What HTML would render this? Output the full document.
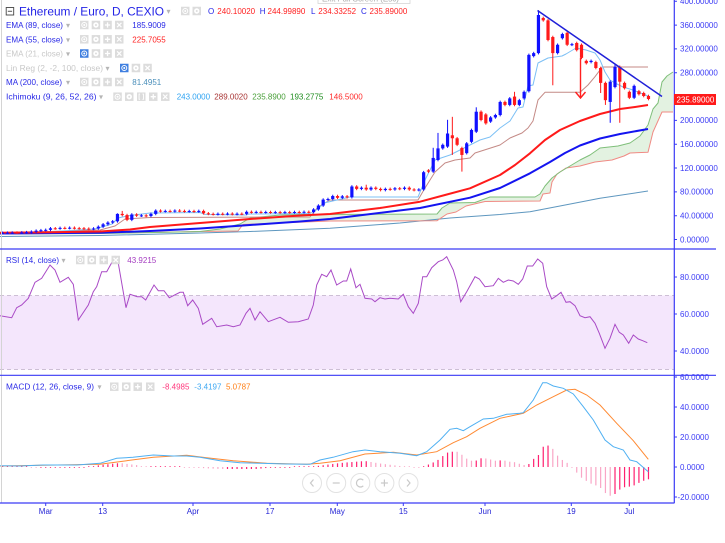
<!DOCTYPE html>
<html><head><meta charset="utf-8">
<style>
html,body{margin:0;padding:0;background:#fff;}
svg{display:block;}
text{font-family:"Liberation Sans",sans-serif;}
</style></head>
<body>
<svg id="c" width="725" height="543" viewBox="0 0 725 543" xmlns="http://www.w3.org/2000/svg">
<rect width="725" height="543" fill="#fff"/>
<!-- RSI band -->
<rect x="0" y="295.5" width="674" height="74" fill="#f4e6fc"/>
<line x1="0" y1="295.5" x2="674" y2="295.5" stroke="#bfaec8" stroke-width="0.8" stroke-dasharray="4,3"/>
<line x1="0" y1="369.5" x2="674" y2="369.5" stroke="#bfaec8" stroke-width="0.8" stroke-dasharray="4,3"/>

<!-- Ichimoku cloud -->
<polygon fill="#e3f2e1" points="0,234 100,233.5 180,232 200,231.5 220,229 240,224 250,218 280,215 300,214.5 437,214 442,208 450,203 475,202.5 490,197 535,197 540,194 545,186 552,178 560,172 570,166 580,160 590,155 600,148 618,146 630,143 640,136 648,125 653,109 658,103 662,82 667,76 673,72 673,112 662,112 653,132 648,152.3 630,153 624,156 612,160 595,162 580,166 566,168 557,174 552,182 550,193 543,194 540,201 485,201.5 466,206 456,212 447,214 437,220.7 330,221 243,224.5 238,231 200,231.5 120,233 0,233.5"/>
<g fill="none" stroke-linejoin="round">
<polyline stroke="#5e97bf" stroke-width="1" points="0,236.5 100,235.5 200,233 250,231.5 300,229.5 330,228.3 400,223 450,218 500,214.5 530,211.7 560,206 600,198.3 648,191"/>
<polyline stroke="#f08a84" stroke-width="1" points="0,233.5 120,233 200,231.5 238,231 243,224.5 330,221 437,220.7 447,214 456,212 466,206 485,201.5 540,201 543,194 550,193 552,182 557,174 566,168 580,166 595,162 612,160 624,156 630,153 648,152.3 653,132 662,112 673,112"/>
<polyline stroke="#7fbf7a" stroke-width="1" points="0,234 100,233.5 180,232 200,231.5 220,229 240,224 250,218 280,215 300,214.5 437,214 442,208 450,203 475,202.5 490,197 535,197 540,194 545,186 552,178 560,172 570,166 580,160 590,155 600,148 618,146 630,143 640,136 648,125 653,109 658,103 662,82 667,76 673,72"/>
<polyline stroke="#c48a86" stroke-width="1" points="0,233 100,230 115,226 125,219 150,217.5 310,217 318,207 330,200 418,200 425,188 435,172 445,163 455,160 470,158 475,153 500,145 510,138 522,133 528,128 533,121 538,100 545,92.3 580,92.3 588,85 595,76.7 600,70 602,67 648,67"/>
<polyline stroke="#7cc0f5" stroke-width="1" points="0,233.5 45,232 95,229 112,224 118,218 130,215.5 150,213 200,212.5 205,214.5 245,215 250,214 310,213.5 318,209 324,203 350,197 418,197 425,180 435,160 450,155 470,145 480,140 490,137 500,128 510,121 518,108 523,107 528,86 533,85 538,63 548,58 562,56 566,54 571,51 576,48 586,50 595,53 600,60 605,72 610,80 615,83 623,87 633,90 648,96"/>
<polyline stroke="#1414f0" stroke-width="2" points="0,233.5 100,232.8 150,231 200,228.5 250,225 300,221.5 330,219 420,208 470,197.7 500,188 530,173.3 550,162 565,153 580,145.5 600,138.5 620,134 648,129"/>
<polyline stroke="#ff1a1a" stroke-width="2" points="0,232.7 50,232.3 100,231.5 130,229.5 150,227 200,223 250,219 300,215.5 330,214 380,208 420,201.7 445,195 470,188.3 500,175 515,165 530,153.3 545,140 560,130 580,121 600,114 620,109 635,107 648,105"/>
</g>
<g id="cndl"></g>
<!-- trendline & arrow -->
<line x1="537.5" y1="10.5" x2="662" y2="96.5" stroke="#2020d8" stroke-width="1.5"/>
<path d="M580.5 58V98M575.5 92L580.5 98L585.5 92" stroke="#ff2020" stroke-width="1.4" fill="none"/>

<!-- RSI line -->
<polyline fill="none" stroke="#a94ac6" stroke-width="1" points="0,315.7 11.7,317.7 16.7,307.7 21.7,305 28.3,298.3 35,282.3 41.7,278.3 50,265 55,270 60,282.3 68.3,277.3 73.3,284.3 78.3,320 88.3,305 93.3,291.7 96.7,286.7 101.7,271.7 106.7,271.7 115,256.7 118.3,263.3 126,307.7 130,294.3 137.3,296.7 141.7,296.7 145.7,300 154,285 158.3,290.7 164,290.7 169.3,297.7 180,292.3 183.3,292.3 187.7,305.7 192.7,300 198.3,308.3 202.7,324.3 211.7,318.3 216.7,326.7 226.7,325 233.3,326.7 240,325 246,313.3 250,308.3 255,320 260,311.7 268.3,321.7 280,317.3 288.3,322.3 298.3,321.7 308.3,319 313.3,305 316.7,285 321.7,274.3 326.7,276.7 331,270 336.7,285 343.3,281 346.7,281 350.7,269 356,287.7 360,284.3 365,298.3 371.7,299 375,301.7 380,297.7 385,299 390,298.3 398.3,299 403.3,294.3 408.3,306.7 413.3,313.3 418.3,303.3 422.7,276.7 426.7,276.7 431.7,267.7 438.3,261.7 442.7,260 446.7,256.7 453.3,270 456.7,281.7 460.7,301.7 466.7,291.7 475,276.7 479.3,279 485,286.7 493.3,285.7 498.3,278.3 503.3,282.3 508.3,280 513.3,281 518.3,284.3 522.7,279 527.3,266 532.7,266 537.7,259 542.7,263.3 546.7,286.7 551.7,299 556.7,295.7 561,292.3 566,302.3 570,301.7 575,305.7 580,315.7 585,317.7 590,316.7 595,323.3 599.3,333.3 605,348.3 610,338.3 615,324.3 619.3,332.3 623.3,335 628.7,343.3 633.3,335 638.3,339 642.7,340.7 647.3,342.7"/>

<!-- MACD -->
<g id="hist"></g>
<polyline fill="none" stroke="#ff8a33" stroke-width="1" points="0,466 100,464.3 126.7,460.7 153.3,457.3 186.7,455.3 206.7,457.7 233.3,460.7 266.7,463.3 306.7,464.3 320,463.3 340,460.7 365,454 393.3,452.3 416.7,455 436.7,451.7 453.3,442.7 466.7,436.7 480,428.3 500,418.3 523.3,413.3 536.7,405 553.3,396.7 566.7,390 575,389.3 586.7,395 600,405 616.7,423.3 633.3,440.7 648.3,459.3"/>
<polyline fill="none" stroke="#4fb0f2" stroke-width="1" points="0,465.7 20,466 43,465 76.7,465 100,463.3 116.7,458.3 133,457.3 153.3,455 173,456 186.7,456 200,457.3 220,460.7 240,462.7 260,463.3 286.7,464 310,464.3 320,460 333,457.3 353,451.7 365,450 380,451.7 400,453.3 416.7,455.7 426.7,451.7 440,440 450,429.3 456.7,428.3 463.3,430.7 470,426.7 483.3,419 493.3,418.3 506.7,414.3 520,413.3 523.3,412.7 533.3,400 542.7,382.7 546.7,382.7 553.3,386 563.3,388.3 573.3,394 583.3,406.7 593.3,420 605,440 613.3,446.7 623.3,450 630,460 636.7,461.7 648.3,471.7"/>

<!-- frame -->
<line x1="1.5" y1="0" x2="1.5" y2="503" stroke="#d4d4d4" stroke-width="1"/>
<line x1="0" y1="249" x2="716" y2="249" stroke="#3a3af5" stroke-width="1.2"/>
<line x1="0" y1="375.3" x2="716" y2="375.3" stroke="#3a3af5" stroke-width="1.2"/>
<line x1="0" y1="503" x2="674.5" y2="503" stroke="#3a3af5" stroke-width="1.2"/>
<line x1="674.3" y1="0" x2="674.3" y2="503" stroke="#3a3af5" stroke-width="1.2"/>

<!-- right axis ticks & labels -->
<g stroke="#3a3af5" stroke-width="1">
<path d="M674 1.3h3M674 25.1h3M674 48.9h3M674 72.8h3M674 120.4h3M674 144.2h3M674 168h3M674 191.9h3M674 215.7h3M674 239.5h3M674 277h3M674 314h3M674 351h3M674 377h3M674 407h3M674 437h3M674 467h3M674 497h3"/>
<path d="M45.7 503v3M102.7 503v3M193 503v3M270 503v3M337.3 503v3M403.3 503v3M485 503v3M571.3 503v3M629.3 503v3"/>
</g>
<g font-size="8" fill="#3b3bf5">
<text x="680" y="4.1">400.00000</text>
<text x="680" y="27.9">360.00000</text>
<text x="680" y="51.7">320.00000</text>
<text x="680" y="75.6">280.00000</text>
<text x="680" y="123.2">200.00000</text>
<text x="680" y="147">160.00000</text>
<text x="680" y="170.8">120.00000</text>
<text x="680" y="194.7">80.00000</text>
<text x="680" y="218.5">40.00000</text>
<text x="680" y="242.3">0.00000</text>
<text x="680" y="279.8">80.0000</text>
<text x="680" y="316.8">60.0000</text>
<text x="680" y="353.8">40.0000</text>
<text x="680" y="379.8">60.0000</text>
<text x="680" y="409.8">40.0000</text>
<text x="680" y="439.8">20.0000</text>
<text x="680" y="469.8">0.0000</text>
<text x="677.5" y="499.8">-20.0000</text>
</g>
<rect x="674" y="94" width="42" height="11" fill="#ff1a1a"/>
<text x="676.5" y="102.5" font-size="8" fill="#fff">235.89000</text>

<!-- time labels -->
<g font-size="8" fill="#2626d6" text-anchor="middle">
<text x="45.7" y="514">Mar</text>
<text x="102.7" y="514">13</text>
<text x="193" y="514">Apr</text>
<text x="270" y="514">17</text>
<text x="337.3" y="514">May</text>
<text x="403.3" y="514">15</text>
<text x="485" y="514">Jun</text>
<text x="571.3" y="514">19</text>
<text x="629.3" y="514">Jul</text>
</g>

<!-- tooltip remnant -->
<rect x="318" y="-9" width="92" height="12.5" fill="#fff" stroke="#d6d6d6" stroke-width="0.8"/>
<text x="322" y="1.5" font-size="8" fill="#aaa">Exit Full Screen (Esc)</text>

<!-- legends -->
<rect x="6.2" y="7.5" width="7.5" height="7.5" fill="none" stroke="#444" stroke-width="0.9"/>
<line x1="7.8" y1="11.25" x2="12.1" y2="11.25" stroke="#444" stroke-width="0.9"/>
<text x="19" y="15.3" font-size="12" fill="#2424e6" textLength="145" lengthAdjust="spacingAndGlyphs">Ethereum / Euro, D, CEXIO</text>
<g font-size="8" fill="#b5b5b5">
<text x="166.5" y="14">▾</text>
<text x="66" y="28">▾</text><text x="66" y="42.3">▾</text><text x="66" y="56.5">▾</text>
<text x="105.5" y="71">▾</text><text x="66" y="85">▾</text><text x="99" y="99.7">▾</text>
<text x="61.5" y="263">▾</text><text x="97.5" y="389.5">▾</text>
</g>
<g font-size="8">
<text x="208" y="14" fill="#2424e6">O</text><text x="217.3" y="14" fill="#ff2020">240.10020</text>
<text x="259.7" y="14" fill="#2424e6">H</text><text x="267.5" y="14" fill="#ff2020">244.99890</text>
<text x="311" y="14" fill="#2424e6">L</text><text x="318.3" y="14" fill="#ff2020">234.33252</text>
<text x="361" y="14" fill="#2424e6">C</text><text x="369.5" y="14" fill="#ff2020">235.89000</text>

<text x="6" y="28" fill="#2929e6" textLength="57" lengthAdjust="spacingAndGlyphs">EMA (89, close)</text>
<text x="132.3" y="28" fill="#2929e6">185.9009</text>
<text x="6" y="42.3" fill="#2929e6" textLength="57" lengthAdjust="spacingAndGlyphs">EMA (55, close)</text>
<text x="132.3" y="42.3" fill="#ff2020">225.7055</text>
<text x="6" y="56.5" fill="#c8c8c8" textLength="57" lengthAdjust="spacingAndGlyphs">EMA (21, close)</text>
<text x="6" y="71" fill="#c8c8c8" textLength="97" lengthAdjust="spacingAndGlyphs">Lin Reg (2, -2, 100, close)</text>
<text x="6" y="85" fill="#2929e6" textLength="56" lengthAdjust="spacingAndGlyphs">MA (200, close)</text>
<text x="132.3" y="85" fill="#4a8fba">81.4951</text>
<text x="6" y="99.7" fill="#2929e6" textLength="90.5" lengthAdjust="spacingAndGlyphs">Ichimoku (9, 26, 52, 26)</text>
<text x="176.7" y="99.7" fill="#2ea3f2">243.0000</text>
<text x="214.3" y="99.7" fill="#a83434">289.0020</text>
<text x="252.3" y="99.7" fill="#4aa03a">235.8900</text>
<text x="290" y="99.7" fill="#1e8c1e">193.2775</text>
<text x="329.3" y="99.7" fill="#ff2a2a">146.5000</text>

<text x="6" y="263" fill="#2929e6" textLength="53" lengthAdjust="spacingAndGlyphs">RSI (14, close)</text>
<text x="127.3" y="263" fill="#a43cc0">43.9215</text>

<text x="6" y="389.5" fill="#2929e6" textLength="88" lengthAdjust="spacingAndGlyphs">MACD (12, 26, close, 9)</text>
<text x="162.3" y="389.5" fill="#ff3a7e">-8.4985</text>
<text x="194.3" y="389.5" fill="#3ea8f2">-3.4197</text>
<text x="226" y="389.5" fill="#ff7f16">5.0787</text>
</g>
<g id="icons"></g>

<!-- nav buttons -->
<g id="nav" stroke="#e2e2e2" stroke-width="1" fill="rgba(255,255,255,0.75)">
<circle cx="312" cy="483" r="9.5"/><circle cx="336.2" cy="483" r="9.5"/><circle cx="360.3" cy="483" r="9.5"/><circle cx="384.4" cy="483" r="9.5"/><circle cx="408.5" cy="483" r="9.5"/>
</g>
<g fill="none" stroke="#c9c9c9" stroke-width="1.2">
<path d="M313.5 479.5L310.5 483L313.5 486.5"/>
<path d="M332.7 483H339.7"/>
<path d="M363.3 480.2A4 4 0 1 0 363.3 485.8"/>
<path d="M380.9 483H387.9M384.4 479.5V486.5"/>
<path d="M407 479.5L410 483L407 486.5"/>
</g>
</svg>
<script>
(function(){
const NS='http://www.w3.org/2000/svg';
function el(tag,attrs,parent){const e=document.createElementNS(NS,tag);for(const k in attrs)e.setAttribute(k,attrs[k]);parent.appendChild(e);return e;}
const X=i=>45.7+4.784*i, Y=p=>239.5-0.5955*p;
const D=[
[11,11.2],[11.2,11.4],[11.4,11.6],[11.6,11.5],[11.5,11.9],[11.9,12.3],[12.3,13.2],[13.2,14.8],[14.8,15.6],
[15.6,16.2],[16.2,18.8],[18.8,18.5],[18.5,19.5],[19.5,19.2],[19.2,19.8],[19.8,19],[19,18.8],[18.8,18.2],[18.2,17.8],
[17.8,18.5],[18.5,21.5],[21.5,25.5],[25.5,28.5],[28.5,30.5],[30.5,43,44],[43,41,48],[41,33],[33,42],[42,40],
[40,40.5],[40.5,39.5],[39.5,43],[43,48.5],[48.5,47.5],[47.5,48],[48,47.5],[47.5,48.5],[48.5,48,51],[48,47.3],
[47.3,47.8],[47.8,47],[47,48],[48,44],[44,43],[43,42.5],[42.5,43.2],[43.2,42.8],[42.8,43.5],[43.5,42.6],
[42.6,43.3],[43.3,43],[43,46.5],[46.5,45.8],[45.8,46.3],[46.3,45.7],[45.7,46.2],[46.2,45.5],[45.5,46],[46,45.3],
[45.3,46],[46,45.5],[45.5,46.2],[46.2,45.8],[45.8,46.5],[46.5,46],[46,50.5],[50.5,57],[57,67],[67,68],
[68,73],[73,70],[70,72.5],[72.5,71],[71,89],[89,85],[85,87],[87,84,92],[84,87],[87,85],
[85,83],[83,85],[85,84],[84,86],[86,85],[85,87],[87,84],[84,83],[83,84],[84,113],
[116,114],[114,137,154],[133.5,153,179],[153,159],[156,178,201],[175,170,206,142],[170,159],[153.6,142,0,114],[145,161.5],[164,184],
[181,214.6,222],[214.6,200.7],[210,195],[198,205],[205,209],[209,231],[231,226],[226,237],[240,226,248],[226,234],
[237,248],[249,310],[308,313],[313,377,385],[372,368],[368,335],[340,313,0,259],[313,327],[338,345],[347,327],
[327,328],[330,318],[327,305],[300,296],[298,300],[298,288],[288,263,0,246],[263,234,0,226],[231,265,0,196],[256,290,295],
[290,265,0,196],[263,254],[248,238],[238,258],[249,244],[246,241],[241,235.89]
];
const g=document.getElementById('cndl');
D.forEach((d,k)=>{const i=k-9,x=X(i);const o=d[0],c=d[1],h=d[2],l=d[3];
const yo=Y(o),yc=Y(c);const top=Math.min(yo,yc),bot=Math.max(yo,yc);
const yh=h?Y(h):top-1.3, yl=l?Y(l):bot+1.3;
const col=c>=o?'#1010ff':'#ff1a1a';
el('rect',{x:(x-0.5).toFixed(2),y:yh.toFixed(2),width:1,height:(yl-yh).toFixed(2),fill:col},g);
el('rect',{x:(x-1.6).toFixed(2),y:top.toFixed(2),width:3.2,height:Math.max(1,bot-top).toFixed(2),fill:col},g);
});
const H=[[0,467],[30,467],[35,467.6],[80,467.6],[95,466],[100,465],[120,463],[140,465.5],[143,467],[183,467],[193,467.6],[220,469],[257,469],[270,467.6],[290,467],[310,467],[317,466],[340,463],[365,461],[380,463.5],[400,466],[420,467.6],[425,466],[432,463],[437,460.7],[442,456.7],[447,452.7],[452,451.7],[457,451.7],[461,454],[466,458.3],[471,460.7],[476,460.7],[480,458.3],[485,458.3],[490,459.3],[494,460.7],[498,460.7],[503,460],[508,461.7],[513,461.7],[518,463.3],[523,465],[528,465],[533,459.3],[538,456],[542,447.3],[547,445],[552,447.7],[557,455],[561,459.3],[566,461.7],[571,466.7],[576,471.7],[580,476.7],[585,480],[590,483.3],[595,485],[600,487.3],[605,492.7],[609,496],[614,495],[619,490],[624,487.3],[629,486.7],[633,486],[638,483.3],[643,481],[648,479.3]];
function interp(P,x){if(x<=P[0][0])return P[0][1];for(let j=1;j<P.length;j++){if(x<=P[j][0]){const a=P[j-1],b=P[j];return a[1]+(b[1]-a[1])*(x-a[0])/(b[0]-a[0]);}}return P[P.length-1][1];}
const hg=document.getElementById('hist');let prev=null;
for(let i=-9;i<=126;i++){const x=X(i);const t=interp(H,x);const v=467-t;
const dark=prev===null?true:(v>=prev);prev=v;
const hh=Math.max(0.8,Math.abs(v));
el('rect',{x:(x-0.6).toFixed(2),y:(v>=0?467-hh:467).toFixed(2),width:1.2,height:hh.toFixed(2),fill:dark?'#ff2070':'#f9a6c6'},hg);}
const ig=document.getElementById('icons');
function icon(x,cyc,type,blue){const y=cyc-4.25;const gg=el('g',{},ig);
el('rect',{x:x,y:y,width:8.5,height:8.5,fill:blue?'#3f7fe0':'#dcdcdc'},gg);const cx=x+4.25,cy=cyc;
if(type=='e'){el('circle',{cx:cx,cy:cy,r:2.5,fill:'none',stroke:'#fff','stroke-width':1},gg);el('circle',{cx:cx,cy:cy,r:1,fill:'#fff'},gg);}
else if(type=='g'){el('circle',{cx:cx,cy:cy,r:2.7,fill:'#fff'},gg);el('circle',{cx:cx,cy:cy,r:1,fill:'#dcdcdc'},gg);}
else if(type=='p'){el('path',{d:'M'+(cx-2.6)+' '+cy+'H'+(cx+2.6)+'M'+cx+' '+(cy-2.6)+'V'+(cy+2.6),stroke:'#fff','stroke-width':1.3},gg);}
else if(type=='x'){el('path',{d:'M'+(cx-2.2)+' '+(cy-2.2)+'L'+(cx+2.2)+' '+(cy+2.2)+'M'+(cx+2.2)+' '+(cy-2.2)+'L'+(cx-2.2)+' '+(cy+2.2),stroke:'#fff','stroke-width':1.2},gg);}
else if(type=='b'){el('path',{d:'M'+(cx-1.2)+' '+(cy-2.6)+'h-1v5.2h1M'+(cx+1.2)+' '+(cy-2.6)+'h1v5.2h-1',stroke:'#fff','stroke-width':0.9,fill:'none'},gg);}
}
icon(181,11,'e');icon(192.5,11,'g');
[[25,0],[39.3,0],[53.5,1],[82,0]].forEach(r=>{icon(80,r[0],'e',r[1]);icon(91.7,r[0],'g');icon(103.3,r[0],'p');icon(115,r[0],'x');});
icon(120,68,'e',1);icon(131.7,68,'g');icon(143.3,68,'x');
icon(113.3,96.7,'e');icon(125,96.7,'g');icon(137,96.7,'b');icon(149,96.7,'p');icon(161,96.7,'x');
icon(76,260,'e');icon(87.5,260,'g');icon(99.5,260,'p');icon(111.5,260,'x');
icon(110,386.7,'e');icon(122,386.7,'g');icon(133.5,386.7,'p');icon(146,386.7,'x');
})();
</script>
</body></html>
